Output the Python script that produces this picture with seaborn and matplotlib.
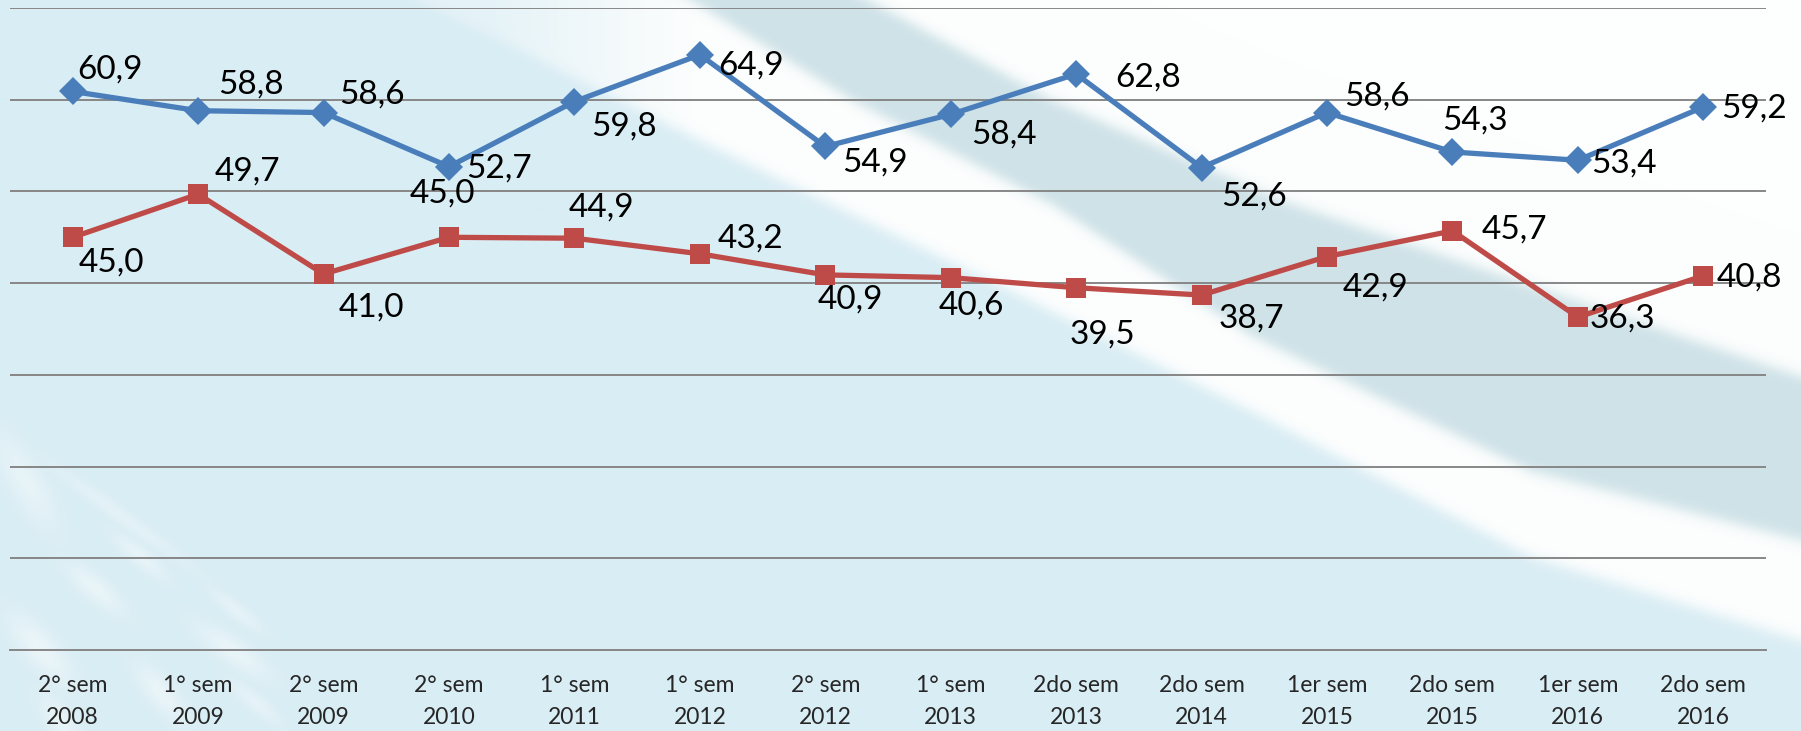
import numpy as np
import pandas as pd
import matplotlib
matplotlib.use("Agg")
import matplotlib.pyplot as plt
import seaborn as sns

# ---- data -------------------------------------------------------------
periods = ["2° sem\n2008", "1° sem\n2009", "2° sem\n2009", "2° sem\n2010",
           "1° sem\n2011", "1° sem\n2012", "2° sem\n2012", "1° sem\n2013",
           "2do sem\n2013", "2do sem\n2014", "1er sem\n2015", "2do sem\n2015",
           "1er sem\n2016", "2do sem\n2016"]
serie_azul = [60.9, 58.8, 58.6, 52.7, 59.8, 64.9, 54.9, 58.4, 62.8, 52.6,
              58.6, 54.3, 53.4, 59.2]
serie_roja = [45.0, 49.7, 41.0, 45.0, 44.9, 43.2, 40.9, 40.6, 39.5, 38.7,
              42.9, 45.7, 36.3, 40.8]

# label placement (pixel offsets of the label's left edge / vertical centre)
off_azul = [(5, 22), (20, 26), (16, 18), (17, -2), (17, -25), (18, -11),
            (17, -16), (20, -20), (39, -3), (20, -29), (17, 16), (-10, 31),
            (13, -3), (18, -1)]
off_roja = [(6, -25), (17, 23), (15, -34), (-39, 44), (-6, 31), (18, 15),
            (-8, -25), (-12, -28), (-7, -47), (17, -23), (16, -31), (29, 1),
            (12, -1), (13, -2)]

AZUL = "#4a7ebb"
ROJO = "#be4b48"
GRID = "#878787"

W, H = 1801, 731
DPI = 100

sns.set_theme(style="white")
plt.rcParams["font.family"] = ["Lato", "DejaVu Sans"]

# ---- background swoosh ------------------------------------------------
yy, xx = np.mgrid[0:H, 0:W].astype(float)
xs = np.arange(W, dtype=float)


def edge(points):
    px, py = zip(*points)
    return np.interp(xs, px, py)[None, :]


def sig(z):
    return 1.0 / (1.0 + np.exp(-z))


base = np.array([217, 237, 244]) / 255.0
white = np.array([253, 254, 254]) / 255.0
teal = np.array([206, 226, 231]) / 255.0

# lower edge of the white stripe, lower and upper edge of the teal band
L1 = edge([(320, -50), (420, 0), (700, 140), (1000, 285), (1250, 410),
           (1531, 556), (1801, 640)])
L2 = edge([(580, -60), (691, 0), (852, 100), (1053, 205), (1250, 335),
           (1531, 471), (1801, 540)])
L3 = edge([(760, -55), (869, 0), (1053, 100), (1282, 200), (1531, 285),
           (1801, 376)])
s = 4.0
t1 = sig((L1 - yy) / s)
t2 = sig((L2 - yy) / s)
t3 = sig((L3 - yy) / s)
# the white stripe fades out towards the upper left
fade = np.clip((xx - 380) / 320.0, 0.35, 1.0)
w1 = (t1 - t2) * fade
img = (base[None, None, :] * (1 - t1 + (t1 - t2) * (1 - fade))[..., None]
       + white[None, None, :] * w1[..., None]
       + teal[None, None, :] * (t2 - t3)[..., None]
       + white[None, None, :] * t3[..., None])

# soft light streaks in the lower left corner
streaks = [(25, 480, 80, 26, 60, 0.4), (120, 515, 130, 12, 36, 0.3),
           (95, 588, 55, 18, 40, 0.45), (140, 556, 50, 14, 40, 0.4),
           (232, 650, 65, 19, 35, 0.45), (40, 648, 65, 24, 48, 0.5),
           (160, 692, 55, 20, 50, 0.45), (236, 610, 48, 12, 38, 0.35),
           (60, 722, 50, 20, 55, 0.4), (255, 702, 48, 13, 40, 0.35)]
glow = np.zeros((H, W))
for cx, cy, a, b, ang, st in streaks:
    th = np.deg2rad(ang)
    u = (xx - cx) * np.cos(th) + (yy - cy) * np.sin(th)
    v = -(xx - cx) * np.sin(th) + (yy - cy) * np.cos(th)
    d = (u / a) ** 2 + (v / b) ** 2
    glow = np.maximum(glow, st * np.exp(-2.2 * d))
img = img * (1 - glow[..., None]) + white[None, None, :] * glow[..., None]
img = np.clip(img, 0, 1)

# ---- figure -----------------------------------------------------------
fig = plt.figure(figsize=(W / DPI, H / DPI), dpi=DPI)
fig.patch.set_facecolor(base)
fig.figimage(img, xo=0, yo=0, origin="upper", zorder=-10)

ax = fig.add_axes([10 / W, 81 / H, 1756 / W, 642 / H])
ax.set_facecolor("none")

idx = np.arange(len(periods))
df = pd.DataFrame({"pos": np.concatenate([idx, idx]),
                   "valor": serie_azul + serie_roja,
                   "serie": ["azul"] * len(idx) + ["roja"] * len(idx)})

sns.lineplot(data=df[df.serie == "azul"], x="pos", y="valor", ax=ax,
             color=AZUL, lw=3.8, marker="D", markersize=14.5,
             markeredgewidth=0, zorder=4, legend=False)
sns.lineplot(data=df[df.serie == "roja"], x="pos", y="valor", ax=ax,
             color=ROJO, lw=3.8, marker="s", markersize=14,
             markeredgewidth=0, zorder=4, legend=False)

for vals, offs in ((serie_azul, off_azul), (serie_roja, off_roja)):
    for i, (v, (dx, dy)) in enumerate(zip(vals, offs)):
        ax.annotate(f"{v:.1f}".replace(".", ","), xy=(i, v),
                    xytext=(dx, dy), textcoords="offset pixels",
                    ha="left", va="center", fontsize=24, color="black",
                    zorder=5)

ax.set_xlim(-0.5, len(periods) - 0.5)
ax.set_ylim(0, 70)
ax.set_yticks(np.arange(10, 71, 10))
ax.yaxis.grid(True, color=GRID, lw=1.4)
ax.tick_params(axis="y", left=False, labelleft=False)
ax.set_xlabel("")
ax.set_ylabel("")

ax.set_xticks(idx)
ax.set_xticklabels(periods, fontsize=16.5, linespacing=1.65)
ax.set_xticks(np.arange(-0.5, len(periods), 1), minor=True)
ax.tick_params(axis="x", which="major", length=0, pad=18)
ax.tick_params(axis="x", which="minor", length=6, width=1.4, color=GRID,
               direction="out")

for side in ("left", "right", "top"):
    ax.spines[side].set_visible(False)
ax.spines["bottom"].set_color(GRID)
ax.spines["bottom"].set_linewidth(1.4)

fig.savefig("out.png", dpi=DPI)
